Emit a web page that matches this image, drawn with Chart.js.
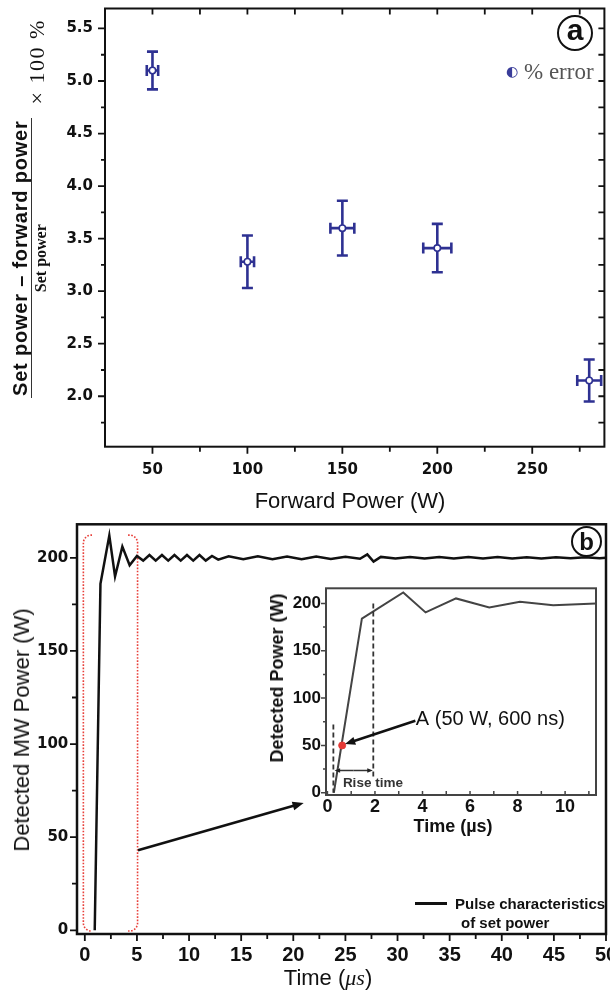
<!DOCTYPE html>
<html>
<head>
<meta charset="utf-8">
<title>Forward power error and pulse characteristics</title>
<script src="https://cdn.jsdelivr.net/npm/chart.js@4.4.1/dist/chart.umd.min.js"></script>
<style>
  html, body { margin: 0; padding: 0; background: #fff; overflow: hidden; }
  #wrap { position: relative; width: 610px; height: 990px; overflow: hidden; font-family: "Liberation Sans", Arial, sans-serif; color: #111; }
  canvas { position: absolute; }
  .t { position: absolute; white-space: nowrap; line-height: 1; transform: translate(-50%, -50%); }
  .rot { transform: translate(-50%, -50%) rotate(-90deg); }
  .l { position: absolute; white-space: nowrap; line-height: 1; transform: translateY(-50%); }
  .circ { position: absolute; border: 2px solid #111; border-radius: 50%; display: flex; align-items: center; justify-content: center; font-weight: bold; line-height: 1; }
</style>
</head>
<body>
<div id="wrap">
  <canvas id="cTop" width="610" height="520" style="left:0;top:0"></canvas>
  <canvas id="cBot" width="610" height="470" style="left:0;top:520px"></canvas>
  <canvas id="cIn" width="348" height="265" style="left:262px;top:575px"></canvas>

  <!-- panel (a) -->
  <div style="position:absolute; left:9px; top:398px; transform-origin:0 0; transform:rotate(-90deg); display:flex; align-items:center; white-space:nowrap;">
    <div style="display:flex; flex-direction:column; align-items:center;">
      <div style="font-weight:bold; font-size:20px; line-height:22px; letter-spacing:0.8px; border-bottom:1.5px solid #333; padding:0 2px;">Set power – forward power</div>
      <div style="font-family:'Liberation Serif',serif; font-weight:bold; font-size:16px; line-height:18px;">Set power</div>
    </div>
    <div style="font-family:'Liberation Serif',serif; font-size:22px; line-height:22px; letter-spacing:1.5px; margin-left:14px; position:relative; top:7px;">× 100 %</div>
  </div>
  <div class="t" style="left:350px; top:501px; font-size:22px;">Forward Power (W)</div>
  <div class="circ" style="left:557px; top:15px; width:32px; height:32px; font-size:30px;"><span style="position:relative; top:-3px;">a</span></div>
  <div class="t" style="left:512px; top:71px; font-family:'DejaVu Sans'; font-size:14px; color:#3a3d9a;">◐</div>
  <div class="l" style="left:524px; top:71px; font-family:'Liberation Serif',serif; font-size:23px; color:#555;">% error</div>

  <!-- panel (b) -->
  <div class="t rot" style="left:22px; top:730px; font-size:22px;">Detected MW Power (W)</div>
  <div class="t" style="left:328px; top:978px; font-size:22px;">Time (<span style="font-family:'Liberation Serif',serif; font-style:italic;">μs</span>)</div>
  <div class="circ" style="left:571px; top:526px; width:27px; height:27px; font-size:24px;"><span style="position:relative; top:0px;">b</span></div>
  <div style="position:absolute; left:415px; top:902px; width:32px; height:3px; background:#111;"></div>
  <div class="l" style="left:455px; top:903px; font-size:15px; font-weight:bold;">Pulse characteristics</div>
  <div class="l" style="left:461px; top:922px; font-size:15px; font-weight:bold;">of set power</div>

  <!-- inset -->
  <div class="t rot" style="left:277px; top:678px; font-size:18px; font-weight:bold;">Detected Power (W)</div>
  <div class="t" style="left:453px; top:826px; font-size:18px; font-weight:bold;">Time (µs)</div>
</div>

<script>
const BLUE = '#2e3192';

// (a) percentage error vs forward power
const forwardPower = [50, 100, 150, 200, 280];
const pctError = [5.10, 3.28, 3.60, 3.41, 2.15];
const pctErrorBar = [0.18, 0.25, 0.26, 0.23, 0.20];
const forwardPowerBar = [3, 3.5, 6.3, 7.4, 6.3];
const aXTicks = [50, 100, 150, 200, 250];
const aXMinor = [75, 125, 175, 225, 275];
const aYTicks = [2.0, 2.5, 3.0, 3.5, 4.0, 4.5, 5.0, 5.5];
const aYMinor = [1.75, 2.25, 2.75, 3.25, 3.75, 4.25, 4.75, 5.25];

// (b) pulse at set power
const pulseTime = [0.95, 1.5, 2.35, 2.9, 3.6, 4.3, 5.0, 5.6, 6.2, 6.8, 7.4, 8.0, 8.6, 9.2, 9.8, 10.4, 11.0, 11.6, 12.2, 12.8,
  13.8, 15.2, 16.6, 18.0, 19.4, 20.8, 22.2, 23.6, 25.0, 26.4, 27.1, 27.7, 28.4, 29.8, 31.2, 32.6, 34.0, 35.4, 36.8,
  38.2, 39.6, 41.0, 42.4, 43.8, 45.2, 46.6, 48.0, 49.4, 50];
const pulsePower = [0, 186, 212, 190, 206, 196, 201, 198.5, 201.5, 198.5, 201.5, 198.5, 201.5, 198.5, 201.5, 198.5, 201.5, 198.5, 201, 199,
  200.8, 199.2, 200.8, 199.3, 200.7, 199.3, 200.7, 199.4, 200.6, 199.5, 201.8, 198, 200.5, 199.6, 200.5, 199.6, 200.4, 199.6, 200.4,
  199.7, 200.4, 199.7, 200.3, 199.7, 200.3, 199.8, 200.3, 199.8, 200];
const bXTicks = [0, 5, 10, 15, 20, 25, 30, 35, 40, 45, 50];
const bXMinor = [2.5, 7.5, 12.5, 17.5, 22.5, 27.5, 32.5, 37.5, 42.5, 47.5];
const bYTicks = [0, 50, 100, 150, 200];
const bYMinor = [25, 75, 125, 175];

// inset: first microseconds of the pulse
const insetTime = [0.27, 1.45, 3.19, 4.13, 5.41, 6.81, 8.1, 9.5, 11.3];
const insetPower = [0, 184, 211.6, 190.5, 205.3, 195.8, 201.7, 198.2, 200];
const pointATime = [0.62];
const pointAPower = [50];
const inXTicks = [0, 2, 4, 6, 8, 10];
const inXMinor = [1, 3, 5, 7, 9, 11];
const inYTicks = [0, 50, 100, 150, 200];
const inYMinor = [25, 75, 125, 175];

Chart.defaults.font.family = "'Liberation Sans', Arial, sans-serif";
Chart.defaults.color = '#111';

const pts = (xs, ys) => xs.map((x, i) => ({x, y: ys[i]}));

function axis(min, max, ticks, size, font, padding, fmt) {
  return {
    type: 'linear', min, max,
    afterBuildTicks: s => { s.ticks = ticks.map(v => ({value: v})); },
    afterFit: s => {
      if (s.isHorizontal()) s.height = size; else s.width = size;
      // labels may hang over the plot edges, as in the original
      s.paddingTop = s.paddingBottom = s.paddingLeft = s.paddingRight = 0;
    },
    grid: {display: false, drawTicks: false},
    border: {display: false},
    ticks: {padding, font, color: '#111', autoSkip: false, maxRotation: 0, callback: fmt || (v => v)}
  };
}

// box round the plot + tick marks (len < 0 points into the plot)
function frame(color, width, tickWidth, marks) {
  return {
    id: 'frame',
    afterDraw(chart) {
      const {ctx, chartArea: a} = chart;
      const xs = chart.scales.x, ys = chart.scales.y;
      ctx.save();
      ctx.strokeStyle = color;
      ctx.lineWidth = tickWidth;
      ctx.beginPath();
      marks.forEach(m => {
        m.values.forEach(v => {
          if (m.side === 'left' || m.side === 'right') {
            const y = ys.getPixelForValue(v);
            const x0 = m.side === 'left' ? a.left : a.right;
            const dir = m.side === 'left' ? -1 : 1;
            ctx.moveTo(x0, y); ctx.lineTo(x0 + dir * m.len, y);
          } else {
            const x = xs.getPixelForValue(v);
            const y0 = m.side === 'bottom' ? a.bottom : a.top;
            const dir = m.side === 'bottom' ? 1 : -1;
            ctx.moveTo(x, y0); ctx.lineTo(x, y0 + dir * m.len);
          }
        });
      });
      ctx.stroke();
      ctx.lineWidth = width;
      ctx.strokeRect(a.left, a.top, a.right - a.left, a.bottom - a.top);
      ctx.restore();
    }
  };
}

function arrow(ctx, x1, y1, x2, y2, head) {
  const ang = Math.atan2(y2 - y1, x2 - x1);
  ctx.beginPath();
  ctx.moveTo(x1, y1);
  ctx.lineTo(x2 - Math.cos(ang) * head * 0.8, y2 - Math.sin(ang) * head * 0.8);
  ctx.stroke();
  ctx.beginPath();
  ctx.moveTo(x2, y2);
  ctx.lineTo(x2 - head * Math.cos(ang - 0.38), y2 - head * Math.sin(ang - 0.38));
  ctx.lineTo(x2 - head * Math.cos(ang + 0.38), y2 - head * Math.sin(ang + 0.38));
  ctx.closePath();
  ctx.fill();
}

const errorBars = {
  id: 'errorBars',
  beforeDatasetsDraw(chart) {
    const {ctx} = chart, x = chart.scales.x, y = chart.scales.y;
    const cap = 5.5;
    ctx.save();
    ctx.strokeStyle = BLUE;
    ctx.lineWidth = 2.6;
    ctx.beginPath();
    forwardPower.forEach((fp, i) => {
      const px = x.getPixelForValue(fp), py = y.getPixelForValue(pctError[i]);
      const top = y.getPixelForValue(pctError[i] + pctErrorBar[i]);
      const bot = y.getPixelForValue(pctError[i] - pctErrorBar[i]);
      const lft = x.getPixelForValue(fp - forwardPowerBar[i]);
      const rgt = x.getPixelForValue(fp + forwardPowerBar[i]);
      ctx.moveTo(px, top); ctx.lineTo(px, bot);
      ctx.moveTo(px - cap, top); ctx.lineTo(px + cap, top);
      ctx.moveTo(px - cap, bot); ctx.lineTo(px + cap, bot);
      ctx.moveTo(lft, py); ctx.lineTo(rgt, py);
      ctx.moveTo(lft, py - cap); ctx.lineTo(lft, py + cap);
      ctx.moveTo(rgt, py - cap); ctx.lineTo(rgt, py + cap);
    });
    ctx.stroke();
    ctx.restore();
  }
};

// red dotted brackets round the first 5 us, and the pointer to the inset
const brackets = [[-0.14, 0.69], [5.06, 4.15]];
const bracketTop = 212.2, bracketBottom = -0.4;
const calloutFrom = [5.1, 43], calloutTo = [21, 68.4];

const pulseNotes = {
  id: 'pulseNotes',
  beforeDatasetsDraw(chart) {
    const {ctx} = chart, x = chart.scales.x, y = chart.scales.y;
    ctx.save();
    ctx.strokeStyle = '#e8403a';
    ctx.lineWidth = 1.6;
    ctx.setLineDash([1.6, 1.6]);
    brackets.forEach(([outer, inner]) => {
      const xo = x.getPixelForValue(outer), xi = x.getPixelForValue(inner);
      const yt = y.getPixelForValue(bracketTop), yb = y.getPixelForValue(bracketBottom);
      ctx.beginPath();
      ctx.moveTo(xi, yt);
      ctx.arcTo(xo, yt, xo, yb, 8);
      ctx.arcTo(xo, yb, xi, yb, 8);
      ctx.lineTo(xi, yb);
      ctx.stroke();
    });
    ctx.restore();
  },
  afterDraw(chart) {
    const {ctx} = chart, x = chart.scales.x, y = chart.scales.y;
    ctx.save();
    ctx.strokeStyle = '#111';
    ctx.fillStyle = '#111';
    ctx.lineWidth = 2.5;
    arrow(ctx, x.getPixelForValue(calloutFrom[0]), y.getPixelForValue(calloutFrom[1]),
      x.getPixelForValue(calloutTo[0]), y.getPixelForValue(calloutTo[1]), 12);
    ctx.restore();
  }
};

// inset annotations: rise-time markers and the label of point A
const riseStart = 0.25, riseEnd = 1.93;
const riseStartTop = 72, riseEndTop = 200, riseEndBottom = 17;
const riseArrowLevel = 23.5;
const riseLabel = [0.65, 10.5];
const labelA = [3.72, 77];
const arrowAFrom = [3.7, 76], arrowATo = [0.74, 51.5];

const insetNotes = {
  id: 'insetNotes',
  afterDraw(chart) {
    const {ctx} = chart, x = chart.scales.x, y = chart.scales.y;
    ctx.save();
    ctx.strokeStyle = '#333';
    ctx.fillStyle = '#222';
    ctx.lineWidth = 1.8;
    ctx.setLineDash([5, 3]);
    ctx.beginPath();
    ctx.moveTo(x.getPixelForValue(riseStart), y.getPixelForValue(riseStartTop));
    ctx.lineTo(x.getPixelForValue(riseStart), y.getPixelForValue(0));
    ctx.moveTo(x.getPixelForValue(riseEnd), y.getPixelForValue(riseEndTop));
    ctx.lineTo(x.getPixelForValue(riseEnd), y.getPixelForValue(riseEndBottom));
    ctx.stroke();
    ctx.setLineDash([]);
    ctx.lineWidth = 1.5;
    const ya = y.getPixelForValue(riseArrowLevel);
    const xa = x.getPixelForValue(riseStart + 0.05), xb = x.getPixelForValue(riseEnd - 0.02);
    const mid = (xa + xb) / 2;
    arrow(ctx, mid, ya, xa, ya, 6);
    arrow(ctx, mid, ya, xb, ya, 6);

    ctx.fillStyle = '#333';
    ctx.font = "bold 13.5px 'Liberation Sans', Arial, sans-serif";
    ctx.textBaseline = 'middle';
    ctx.textAlign = 'left';
    ctx.fillText('Rise time', x.getPixelForValue(riseLabel[0]), y.getPixelForValue(riseLabel[1]));

    ctx.fillStyle = '#111';
    ctx.font = "20px 'Liberation Sans', Arial, sans-serif";
    ctx.fillText('A (50 W, 600 ns)', x.getPixelForValue(labelA[0]), y.getPixelForValue(labelA[1]));

    ctx.strokeStyle = '#111';
    ctx.fillStyle = '#111';
    ctx.lineWidth = 2.5;
    arrow(ctx, x.getPixelForValue(arrowAFrom[0]), y.getPixelForValue(arrowAFrom[1]),
      x.getPixelForValue(arrowATo[0]), y.getPixelForValue(arrowATo[1]), 11);
    ctx.restore();
  }
};

const dejavu15 = {family: "'DejaVu Sans'", weight: 'bold', size: 15};
const base = {responsive: false, animation: false, events: [],
  plugins: {legend: {display: false}, tooltip: {enabled: false}}};

new Chart(document.getElementById('cTop'), {
  type: 'scatter',
  data: {datasets: [{
    label: '% error',
    data: pts(forwardPower, pctError),
    pointRadius: 3.2,
    pointBackgroundColor: '#fff',
    pointBorderColor: BLUE,
    pointBorderWidth: 1.6
  }]},
  options: {...base,
    layout: {padding: {top: 8.5, right: 3.5, left: 0, bottom: 0}},
    scales: {
      x: axis(25, 288, aXTicks, 73.3, dejavu15, 14.8),
      y: axis(1.52, 5.69, aYTicks, 105, dejavu15, 12, v => Number(v).toFixed(1))
    }
  },
  plugins: [errorBars, frame('#111', 2, 1.8, [
    {side: 'left', values: aYTicks, len: 7},
    {side: 'left', values: aYMinor, len: 4},
    {side: 'right', values: aYTicks.concat(aYMinor), len: -6},
    {side: 'bottom', values: aXTicks, len: 7},
    {side: 'bottom', values: aXMinor, len: 5},
    {side: 'top', values: aXTicks.concat(aXMinor), len: -6}
  ])]
});

new Chart(document.getElementById('cBot'), {
  type: 'scatter',
  data: {datasets: [{
    label: 'Pulse characteristics of set power',
    data: pts(pulseTime, pulsePower),
    showLine: true,
    borderColor: '#111',
    borderWidth: 2.5,
    pointRadius: 0,
    tension: 0
  }]},
  options: {...base,
    layout: {padding: {top: 4.3, right: 4, left: 0, bottom: 0}},
    scales: {
      x: axis(-0.75, 50, bXTicks, 56, {weight: 'bold', size: 20}, 9),
      y: axis(-2, 218, bYTicks, 77, dejavu15, 8.7)
    }
  },
  plugins: [pulseNotes, frame('#111', 2.5, 1.8, [
    {side: 'left', values: bYTicks, len: 7},
    {side: 'left', values: bYMinor, len: 5},
    {side: 'bottom', values: bXTicks, len: 7},
    {side: 'bottom', values: bXMinor, len: 5}
  ])]
});

new Chart(document.getElementById('cIn'), {
  type: 'scatter',
  data: {datasets: [{
    label: 'A',
    data: pts(pointATime, pointAPower),
    pointRadius: 3.5,
    pointBackgroundColor: '#e53935',
    pointBorderColor: '#e53935'
  }, {
    label: 'Detected power',
    data: pts(insetTime, insetPower),
    showLine: true,
    borderColor: '#444',
    borderWidth: 2,
    pointRadius: 0,
    tension: 0
  }]},
  options: {...base,
    layout: {padding: {top: 13.3, right: 14, left: 0, bottom: 0}},
    scales: {
      x: axis(-0.06, 11.3, inXTicks, 45, {weight: 'bold', size: 18}, 1),
      y: axis(-2.4, 216, inYTicks, 64, {weight: 'bold', size: 17}, 5)
    }
  },
  plugins: [insetNotes, frame('#444', 2, 1.5, [
    {side: 'left', values: inYTicks, len: 5},
    {side: 'left', values: inYMinor, len: 3},
    {side: 'bottom', values: inXTicks.concat(inXMinor), len: -4}
  ])]
});
</script>
</body>
</html>
